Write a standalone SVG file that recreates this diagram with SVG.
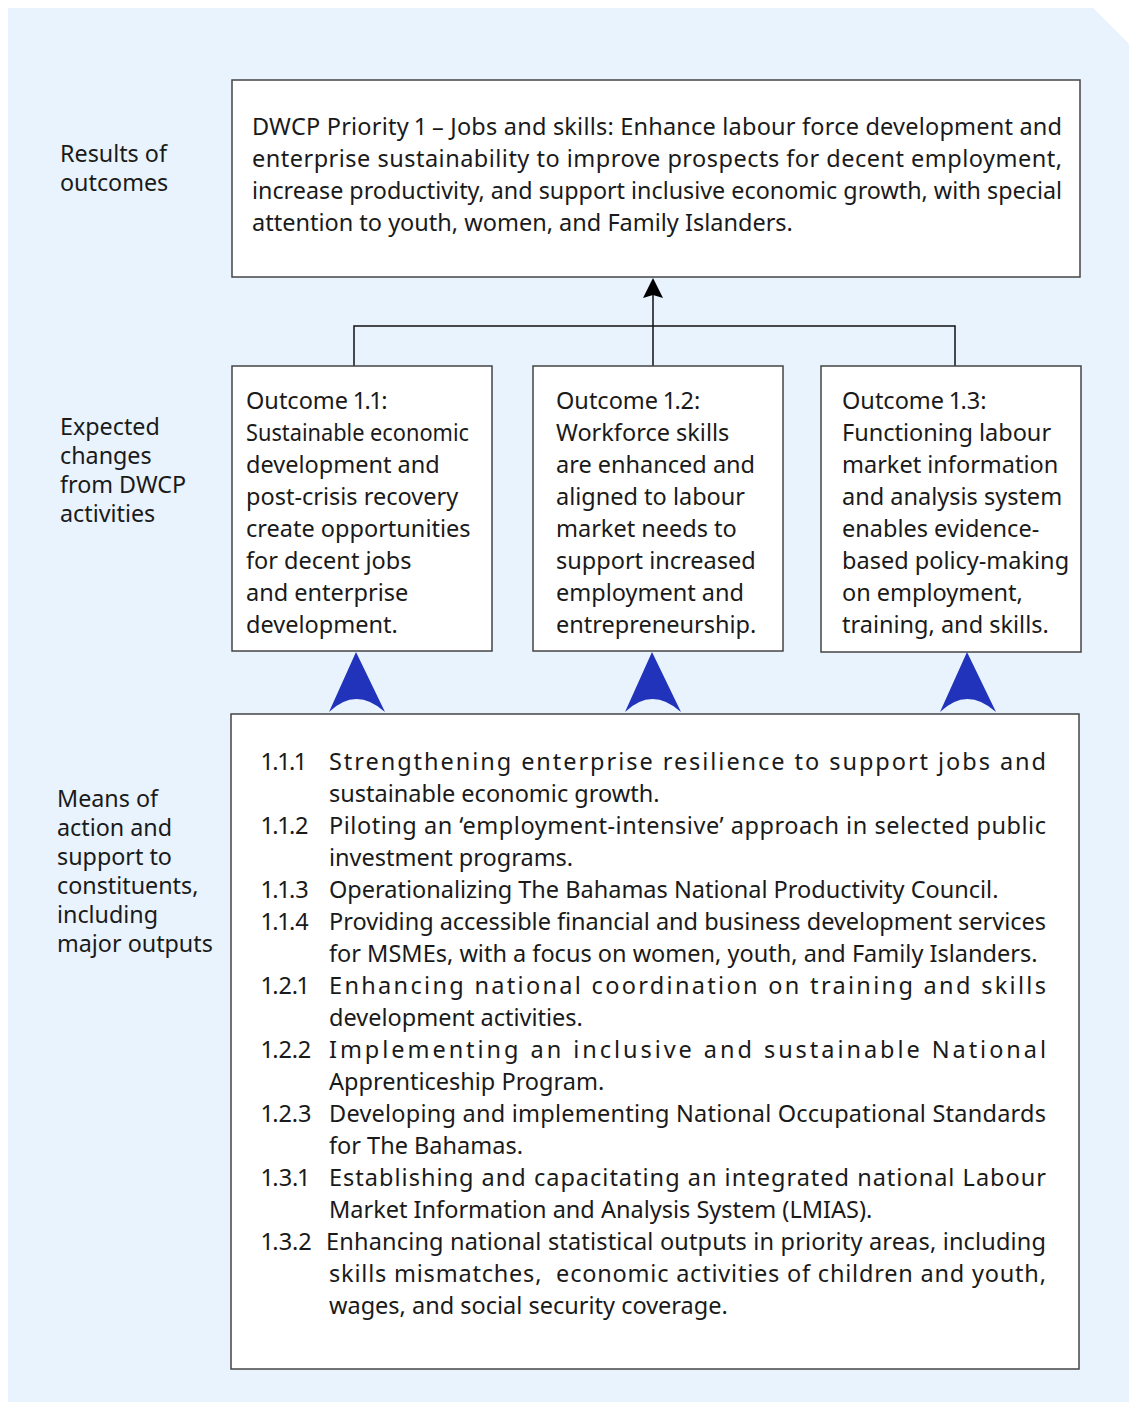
<svg xmlns="http://www.w3.org/2000/svg" width="1129" height="1402" viewBox="0 0 1129 1402">
<style>
text{font-family:"Noto Sans","Open Sans","DejaVu Sans",sans-serif;font-size:23.5px;fill:#1a1a1a;font-variant-numeric:proportional-nums;font-feature-settings:"pnum" 1}
.lab{font-size:23.3px}
.box{fill:#ffffff;stroke:#444444;stroke-width:1.5}
.conn{fill:none;stroke:#111111;stroke-width:1.5}
.blue{fill:#2233bb}
</style>
<path d="M8,8 H1093 L1129,44 V1402 H8 Z" fill="#e8f3fd"/>

<g id="labels">
<text class="lab" x="60" y="162">Results of</text>
<text class="lab" x="60" y="191">outcomes</text>
<text class="lab" x="60" y="435">Expected</text>
<text class="lab" x="60" y="464">changes</text>
<text class="lab" x="60" y="493">from DWCP</text>
<text class="lab" x="60" y="522">activities</text>
<text class="lab" x="57" y="807">Means of</text>
<text class="lab" x="57" y="836">action and</text>
<text class="lab" x="57" y="865">support to</text>
<text class="lab" x="57" y="894">constituents,</text>
<text class="lab" x="57" y="923">including</text>
<text class="lab" x="57" y="952">major outputs</text>
</g>

<g id="connectors">
<polyline class="conn" points="354,366 354,326 955,326 955,366"/>
<line class="conn" x1="653" y1="366" x2="653" y2="294"/>
<path d="M653,278 L663,298 L653,295 L643,298 Z" fill="#000"/>
<path class="blue" d="M356,652 L385,712 Q356,686 329,712 Z"/>
<path class="blue" d="M652,652 L681,712 Q652,686 625,712 Z"/>
<path class="blue" d="M967,652 L996,712 Q967,686 940,712 Z"/>
</g>

<g id="priority">
<rect class="box" x="232" y="80" width="848" height="197"/>
<text x="252" y="135" textLength="810" lengthAdjust="spacing">DWCP Priority 1 – Jobs and skills: Enhance labour force development and</text>
<text x="252" y="167" textLength="810" lengthAdjust="spacing">enterprise sustainability to improve prospects for decent employment,</text>
<text x="252" y="199" textLength="810" lengthAdjust="spacingAndGlyphs">increase productivity, and support inclusive economic growth, with special</text>
<text x="252" y="231">attention to youth, women, and Family Islanders.</text>
</g>

<g id="outcome11">
<rect class="box" x="232" y="366" width="260" height="285"/>
<text x="246" y="409">Outcome 1.1:</text>
<text x="246" y="441" textLength="223" lengthAdjust="spacingAndGlyphs">Sustainable economic</text>
<text x="246" y="473">development and</text>
<text x="246" y="505">post-crisis recovery</text>
<text x="246" y="537">create opportunities</text>
<text x="246" y="569">for decent jobs</text>
<text x="246" y="601">and enterprise</text>
<text x="246" y="633">development.</text>
</g>

<g id="outcome12">
<rect class="box" x="533" y="366" width="250" height="285"/>
<text x="556" y="409">Outcome 1.2:</text>
<text x="556" y="441">Workforce skills</text>
<text x="556" y="473">are enhanced and</text>
<text x="556" y="505">aligned to labour</text>
<text x="556" y="537">market needs to</text>
<text x="556" y="569">support increased</text>
<text x="556" y="601">employment and</text>
<text x="556" y="633">entrepreneurship.</text>
</g>

<g id="outcome13">
<rect class="box" x="821" y="366" width="260" height="286"/>
<text x="842" y="409">Outcome 1.3:</text>
<text x="842" y="441">Functioning labour</text>
<text x="842" y="473">market information</text>
<text x="842" y="505">and analysis system</text>
<text x="842" y="537">enables evidence-</text>
<text x="842" y="569">based policy-making</text>
<text x="842" y="601">on employment,</text>
<text x="842" y="633">training, and skills.</text>
</g>

<g id="outputs">
<rect class="box" x="231" y="714" width="848" height="655"/>
<text x="262" y="770">1.1.1</text>
<text x="329" y="770" textLength="717" lengthAdjust="spacing">Strengthening enterprise resilience to support jobs and</text>
<text x="329" y="802">sustainable economic growth.</text>
<text x="262" y="834">1.1.2</text>
<text x="329" y="834" textLength="717" lengthAdjust="spacing">Piloting an ‘employment-intensive’ approach in selected public</text>
<text x="329" y="866">investment programs.</text>
<text x="262" y="898">1.1.3</text>
<text x="329" y="898">Operationalizing The Bahamas National Productivity Council.</text>
<text x="262" y="930">1.1.4</text>
<text x="329" y="930" textLength="717" lengthAdjust="spacing">Providing accessible financial and business development services</text>
<text x="329" y="962">for MSMEs, with a focus on women, youth, and Family Islanders.</text>
<text x="262" y="994">1.2.1</text>
<text x="329" y="994" textLength="717" lengthAdjust="spacing">Enhancing national coordination on training and skills</text>
<text x="329" y="1026">development activities.</text>
<text x="262" y="1058">1.2.2</text>
<text x="329" y="1058" textLength="717" lengthAdjust="spacing">Implementing an inclusive and sustainable National</text>
<text x="329" y="1090">Apprenticeship Program.</text>
<text x="262" y="1122">1.2.3</text>
<text x="329" y="1122" textLength="717" lengthAdjust="spacing">Developing and implementing National Occupational Standards</text>
<text x="329" y="1154">for The Bahamas.</text>
<text x="262" y="1186">1.3.1</text>
<text x="329" y="1186" textLength="717" lengthAdjust="spacing">Establishing and capacitating an integrated national Labour</text>
<text x="329" y="1218">Market Information and Analysis System (LMIAS).</text>
<text x="262" y="1250">1.3.2</text>
<text x="326" y="1250" textLength="720" lengthAdjust="spacing">Enhancing national statistical outputs in priority areas, including</text>
<text x="329" y="1282" textLength="717" lengthAdjust="spacing" xml:space="preserve">skills mismatches,  economic activities of children and youth,</text>
<text x="329" y="1314">wages, and social security coverage.</text>
</g>
</svg>
